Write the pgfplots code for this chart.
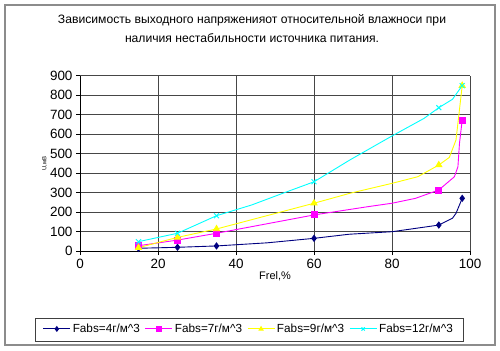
\documentclass[border=0pt]{standalone}
\usepackage{fontspec}
\setmainfont{Liberation Sans}
\usepackage{pgfplots}
\pgfplotsset{compat=1.18}
\definecolor{sNavy}{RGB}{0,0,128}
\definecolor{sMag}{RGB}{255,0,255}
\definecolor{sYel}{RGB}{255,255,0}
\definecolor{sCyan}{RGB}{0,255,255}
\definecolor{gridc}{RGB}{70,70,70}
\begin{document}
\begin{tikzpicture}[x=1bp,y=1bp]
\path (0,0) rectangle (500,350);
\draw[black!45, line width=1.2bp] (5,5) rectangle (495,345);
\node[font=\fontsize{12.2}{14}\selectfont] at (252,330) {Зависимость выходного напряженияот относительной влажноси при};
\node[font=\fontsize{12.2}{14}\selectfont] at (252,312) {наличия нестабильности источника питания.};
\draw[black!75, line width=1bp] (35,9) rectangle (463,32);
\begin{axis}[
  at={(80bp,98.8bp)}, anchor=south west,
  scale only axis, width=390bp, height=175.5bp,
  xmin=0, xmax=100, ymin=0, ymax=900,
  xtick={0,20,...,100}, ytick={0,100,...,900},
  /pgf/number format/assume math mode=true,
  tick label style={font=\fontsize{13.5}{15}\selectfont},
  xmajorgrids, ymajorgrids,
  grid style={gridc, line width=0.9bp},
  axis x line*=bottom, axis y line*=left,
  axis line style={black, line width=0.9bp, -},
  tick style={black, line width=0.8bp},
  tick align=outside, major tick length=4bp,
  xlabel={Frel,\%}, xlabel style={font=\fontsize{11}{13}\selectfont, yshift=4bp},
  ylabel={U,мВ}, ylabel style={font=\fontsize{6}{7}\selectfont, yshift=-4bp},
  legend columns=4,
  legend style={at={(0.433,-0.443)}, anchor=center, draw=none, fill=none,
    font=\fontsize{11.8}{14}\selectfont, inner sep=1.5bp,
    /tikz/every even column/.append style={column sep=3bp}},
  legend image code/.code={%
    \draw[#1, mark=none] (0bp,0bp) -- (27bp,0bp);
    \draw[#1, mark indices={1}, mark size=2.3bp] plot coordinates {(13.5bp,0bp)};
  },
  legend cell align=left,
  clip=false,
]
\addplot[sNavy, line width=0.9bp, mark=diamond*, mark size=3bp, mark options={fill=sNavy, solid}, mark indices={1,2,3,5,8,11}]
coordinates {(15,15) (25,20) (35,27) (48,43) (60,66) (69,87) (80,100) (92,134) (95.5,169) (96.4,194) (98,271)};
\addlegendentry{Fabs=4г/м\^{}3}
\addplot[sMag, line width=0.9bp, mark=square*, mark size=3bp, mark options={fill=sMag, solid}, mark indices={1,2,3,4,8,12}]
coordinates {(15,28) (25,57) (35,92) (60,186) (73.7,228) (80,246) (86,271) (92,314) (96,382) (96.9,433) (97.3,553) (98,673)};
\addlegendentry{Fabs=7г/м\^{}3}
\addplot[sYel, line width=0.9bp, mark=triangle*, mark size=3.5bp, mark options={fill=sYel, solid}, mark indices={1,2,3,4,8,11}]
coordinates {(15,18) (25,71) (35,114) (60,246) (69.2,297) (80,348) (86.6,382) (92,442) (94.7,481) (96.4,570) (98,849)};
\addlegendentry{Fabs=9г/м\^{}3}
\addplot[sCyan, line width=0.9bp, mark=x, mark size=3.5bp, mark options={solid}, mark indices={1,2,3,6,10,12}]
coordinates {(15,49) (25,92) (35,182) (44,237) (52,297) (60,356) (69.2,468) (80,591) (88.2,681) (92,736) (95.5,779) (98,849)};
\addlegendentry{Fabs=12г/м\^{}3}
\end{axis}
\end{tikzpicture}
\end{document}
